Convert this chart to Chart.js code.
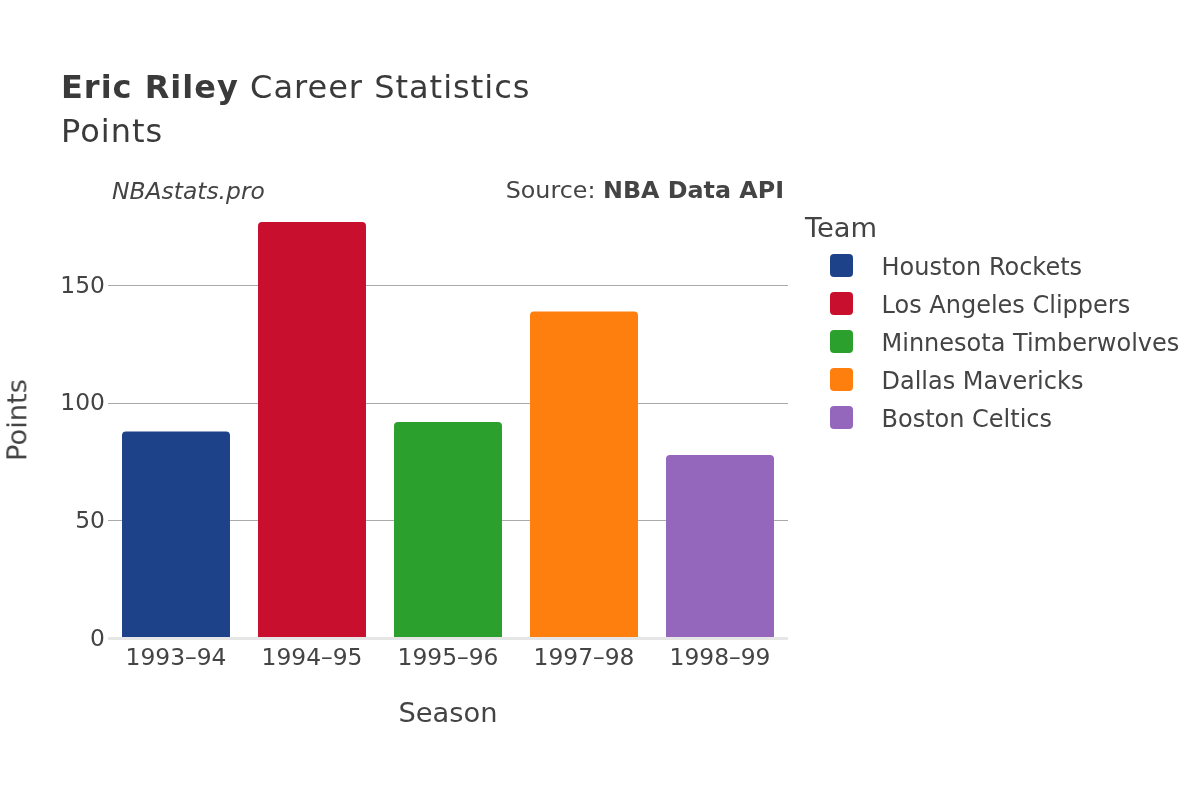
<!DOCTYPE html>
<html>
<head>
<meta charset="utf-8">
<script src="https://cdn.jsdelivr.net/npm/chart.js@4/dist/chart.umd.min.js"></script>
<style>
  html, body { margin: 0; padding: 0; background: #fff; }
  #wrap { position: relative; width: 1200px; height: 800px; overflow: hidden; font-family: "DejaVu Sans", sans-serif; color: #444; }
  #c { position: absolute; left: 0; top: 0; }
  .t { position: absolute; line-height: 1; white-space: nowrap; }
  .sw { position: absolute; width: 23px; height: 23px; border-radius: 4px; }
</style>
</head>
<body>
<div id="wrap">
  <canvas id="c" width="1200" height="800"></canvas>
  <div class="t" style="left:61px; top:71.3px; font-size:32px; letter-spacing:1px; color:#3a3a3a;"><b>Eric Riley</b> Career Statistics</div>
  <div class="t" style="left:61px; top:115.3px; font-size:32px; letter-spacing:1px; color:#3a3a3a;">Points</div>
  <div class="t" style="left:112px; top:179.5px; font-size:23.4px; font-style:italic;">NBAstats.pro</div>
  <div class="t" style="right:416px; top:179.2px; font-size:23.8px;">Source: <b>NBA Data API</b></div>
  <div class="t" style="left:805px; top:213.6px; font-size:27.3px;">Team</div>
  <div class="t" style="left:448px; top:698.6px; font-size:27.3px; transform:translateX(-50%);">Season</div>
  <div class="t" style="left:17px; top:420px; font-size:27.3px; transform:translate(-50%,-50%) rotate(-90deg);">Points</div>
  <div id="legend"></div>
</div>
<script>
const seasons = ["1993–94", "1994–95", "1995–96", "1997–98", "1998–99"];
const teams = ["Houston Rockets", "Los Angeles Clippers", "Minnesota Timberwolves", "Dallas Mavericks", "Boston Celtics"];
const points = [88, 177, 92, 139, 78];
const colors = ["#1d428a", "#c8102e", "#2ca02c", "#ff7f0e", "#9467bd"];
const yTicks = [0, 50, 100, 150];

// HTML legend
const legend = document.getElementById('legend');
teams.forEach((t, i) => {
  const sw = document.createElement('div');
  sw.className = 'sw';
  sw.style.left = '830px';
  sw.style.top = (253.5 + i * 38) + 'px';
  sw.style.background = colors[i];
  legend.appendChild(sw);
  const lb = document.createElement('div');
  lb.className = 't';
  lb.style.left = '881.5px';
  lb.style.top = (254.5 + i * 38) + 'px';
  lb.style.fontSize = '24px';
  lb.textContent = t;
  legend.appendChild(lb);
});

const datasets = teams.map((t, i) => ({
  label: t,
  data: seasons.map((s, j) => (j === i ? points[i] : null)),
  backgroundColor: colors[i],
  borderRadius: 4,
  borderSkipped: 'start',
  categoryPercentage: 1,
  barPercentage: 0.794,
  grouped: false,
  skipNull: true
}));

const tickFont = { family: "DejaVu Sans", size: 23.4 };

new Chart(document.getElementById('c'), {
  type: 'bar',
  data: { labels: seasons, datasets },
  options: {
    responsive: false,
    animation: false,
    events: [],
    layout: { padding: { left: 0, right: 412, top: 200.8, bottom: 0 } },
    plugins: { legend: { display: false }, tooltip: { enabled: false }, title: { display: false } },
    scales: {
      x: {
        grid: { display: false },
        border: { display: false },
        ticks: { font: tickFont, color: '#444', padding: -2, maxRotation: 0, autoSkip: false },
        afterFit: (s) => { s.height = 161.5; }
      },
      y: {
        min: 0,
        max: 186,
        afterBuildTicks: (s) => { s.ticks = yTicks.map(v => ({ value: v })); },
        grid: {
          drawTicks: false,
          color: (ctx) => (ctx.tick && ctx.tick.value === 0 ? '#e6e6e6' : '#aaaaaa'),
          lineWidth: (ctx) => (ctx.tick && ctx.tick.value === 0 ? 3 : 1)
        },
        border: { display: false },
        ticks: { font: tickFont, color: '#444', padding: 3, labelOffset: 1 },
        afterFit: (s) => { s.width = 108; }
      }
    }
  }
});
</script>
</body>
</html>
